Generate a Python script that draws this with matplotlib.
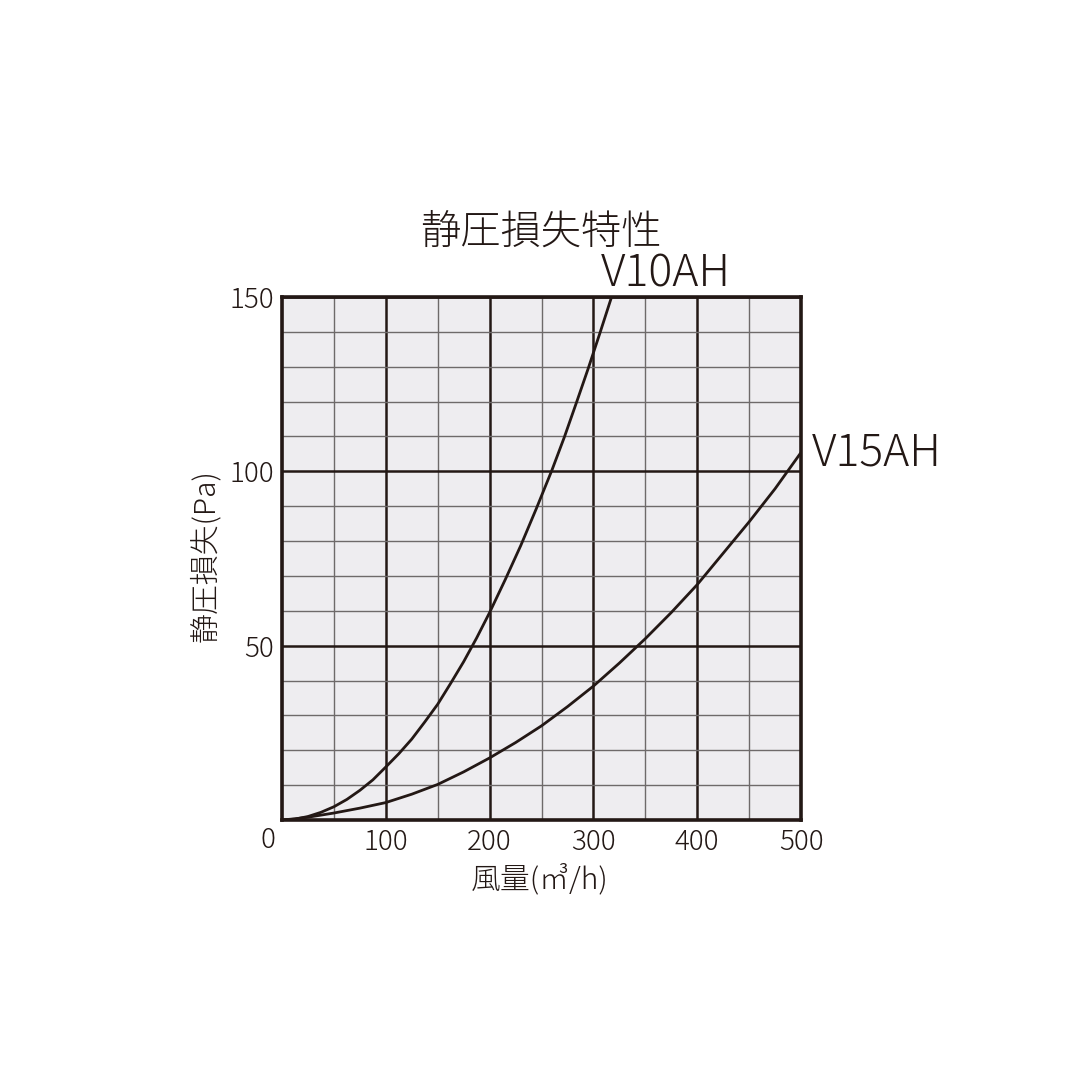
import matplotlib
matplotlib.use("Agg")
import matplotlib.pyplot as plt
from matplotlib.ticker import MultipleLocator

plt.rcParams['font.family'] = ['Noto Sans CJK JP', 'DejaVu Sans']

# Data
v10_flow = [0, 12.5, 25, 37.5, 50, 62.5, 75, 87.5, 100, 112.5, 125, 137.5, 150, 162.5, 175,
            187.5, 200, 207.5, 215, 230, 245, 260, 272, 284, 295, 306, 317.5]
v10_loss = [0, 0.25, 1.0, 2.2, 3.8, 5.9, 8.5, 11.5, 15.2, 19.0, 23.2, 28.1, 33.2, 39.2, 45.4,
            52.2, 59.5, 64.2, 68.9, 78.7, 89.3, 100.3, 109.8, 120, 129.5, 139.4, 150]
v15_flow = [0, 12.5, 25, 37.5, 50, 62.5, 75, 100, 125, 150, 175, 200, 225, 250, 275, 300,
            325, 350, 375, 400, 425, 450, 475, 500]
v15_loss = [0, 0.35, 0.8, 1.4, 2.0, 2.7, 3.4, 5.0, 7.4, 10.2, 13.8, 17.8, 22.2, 27, 32.5, 38.4,
            45, 52, 59.5, 67.5, 76.5, 85.5, 95, 105.4]
series_names = ["V10AH", "V15AH"]
x_ticks = [100, 200, 300, 400, 500]
y_ticks = [50, 100, 150]

INK = '#231815'
fig = plt.figure(figsize=(10.8, 10.8), dpi=100)
ax = fig.add_axes([282/1080, 1-820/1080, (801-282)/1080, (820-297)/1080])
ax.set_facecolor('#eeedf0')
ax.set_xlim(0, 500)
ax.set_ylim(0, 150)

ax.xaxis.set_major_locator(MultipleLocator(100))
ax.xaxis.set_minor_locator(MultipleLocator(50))
ax.yaxis.set_major_locator(MultipleLocator(50))
ax.yaxis.set_minor_locator(MultipleLocator(10))
ax.grid(which='minor', color='#6e6a6a', lw=1.0)
ax.grid(which='major', color=INK, lw=1.8)
ax.set_axisbelow(True)

ax.set_xticks(x_ticks)
ax.set_xticklabels([str(v) for v in x_ticks])
ax.set_yticks(y_ticks)
ax.set_yticklabels([str(v) for v in y_ticks])
ax.tick_params(which='both', length=0, labelsize=20, colors=INK, pad=6)
for lab in ax.get_xticklabels() + ax.get_yticklabels():
    lab.set_fontweight('light')
ax.text(-0.027, -0.012, '0', transform=ax.transAxes, ha='center', va='top',
        fontsize=20, color=INK, fontweight='light')

for s in ax.spines.values():
    s.set_color(INK)
    s.set_linewidth(2.6)

ax.plot(v10_flow, v10_loss, color=INK, lw=2.0, solid_joinstyle='round',
        solid_capstyle='round', clip_on=True)
ax.plot(v15_flow, v15_loss, color=INK, lw=2.0, solid_joinstyle='round',
        solid_capstyle='round', clip_on=True)

fig.text(666/1080, 1-274/1080, series_names[0], ha='center', va='center',
         fontsize=32, color=INK, fontweight='light')
fig.text(877/1080, 1-453/1080, series_names[1], ha='center', va='center',
         fontsize=32, color=INK, fontweight='light')

fig.text(541/1080, 1-233/1080, '静圧損失特性', ha='center', va='center',
         fontsize=29, color=INK, fontweight='light')
fig.text(540/1080, 1-880/1080, '風量(㎥/h)', ha='center', va='center',
         fontsize=21.5, color=INK, fontweight='light')
fig.text(206/1080, 1-556/1080, '静圧損失(Pa)', ha='center', va='center',
         rotation=90, fontsize=21.5, color=INK, fontweight='light')

fig.savefig('out.png', dpi=100, facecolor='white')
